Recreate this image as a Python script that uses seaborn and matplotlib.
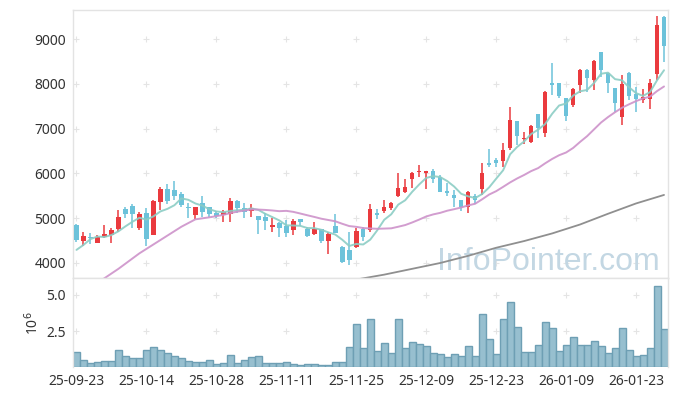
import numpy as np
import pandas as pd
import seaborn as sns
import matplotlib
matplotlib.use('Agg')
import matplotlib.pyplot as plt

# trading days (KRX calendar)
holidays = ['2025-10-03', '2025-10-06', '2025-10-07', '2025-10-08', '2025-10-09',
            '2025-12-25', '2025-12-31', '2026-01-01']
days = pd.bdate_range('2025-09-23', '2026-01-29')
days = days[~days.isin(pd.to_datetime(holidays))]

opens = [4848, 4498, 4587, 4446, 4587, 4625, 4759, 5205, 5272, 4788,
         5123, 4625, 5368, 5652, 5629, 5533, 5257, 5071, 5332, 5243,
         5116, 5078, 5094, 5384, 5221, 5168, 5049, 5034, 4810, 4886,
         4826, 4737, 4982, 4759, 4640, 4752, 4498, 4826, 4364, 4290,
         4350, 4759, 4737, 5123, 5168, 5235, 5502, 5592, 5875, 6031,
         6000, 6053, 5913, 5607, 5518, 5406, 5257, 5502, 5645, 6239,
         6299, 6277, 6560, 7170, 6761, 6707, 7326, 6908, 8018, 8031,
         7675, 7527, 7973, 8308, 8085, 8718, 8234, 7899, 7252, 8241,
         7772, 7650, 7667, 8219, 9498]
highs = [4860, 4685, 4663, 4620, 4848, 4775, 5183, 5257, 5317, 5132,
         5220, 5406, 5703, 5757, 5830, 5577, 5332, 5243, 5495, 5243,
         5170, 5183, 5444, 5406, 5346, 5317, 5049, 5109, 4998, 4922,
         4960, 4975, 4982, 4810, 4908, 4752, 4699, 5094, 4380, 4699,
         4774, 4810, 5317, 5198, 5406, 5368, 6016, 5868, 6038, 6187,
         6060, 6090, 5957, 5779, 5629, 5406, 5607, 5533, 6225, 6538,
         6350, 6672, 7489, 7170, 6931, 7080, 7326, 7839, 8460, 8031,
         7675, 7899, 8323, 8323, 8531, 8718, 8234, 7899, 8196, 8270,
         7922, 7877, 8100, 9513, 9513]
lows = [4480, 4386, 4417, 4440, 4551, 4453, 4699, 5010, 4774, 4737,
        4386, 4625, 5183, 5317, 5406, 5257, 4998, 4982, 5033, 5033,
        5000, 4922, 4922, 5123, 4998, 5020, 4647, 4737, 4699, 4587,
        4587, 4625, 4833, 4573, 4625, 4440, 4201, 4663, 4000, 3955,
        4329, 4484, 4699, 4975, 5109, 5183, 5480, 5560, 5667, 5927,
        5645, 5778, 5592, 5495, 5257, 5168, 5109, 5317, 5518, 6136,
        6136, 6150, 6522, 6634, 6649, 6685, 6783, 6805, 7750, 7683,
        7176, 7489, 7802, 7824, 7861, 8145, 7802, 7377, 7080, 7638,
        7377, 7565, 7430, 8085, 8494]
closes = [4513, 4603, 4551, 4587, 4647, 4737, 5020, 5100, 5100, 5094,
          4529, 5384, 5652, 5384, 5502, 5295, 5221, 5243, 5145, 5094,
          5056, 5132, 5384, 5221, 5145, 5221, 4960, 4944, 4855, 4774,
          4676, 4937, 4908, 4610, 4759, 4498, 4647, 4663, 4029, 4067,
          4721, 4587, 5205, 5071, 5243, 5332, 5667, 5696, 6016, 6060,
          6060, 5868, 5592, 5570, 5443, 5257, 5578, 5406, 6016, 6187,
          6225, 6522, 7192, 6835, 6797, 7058, 7006, 7824, 7973, 7727,
          7281, 7884, 8308, 8123, 8509, 8308, 8011, 7578, 8000, 7727,
          7654, 7698, 8011, 9312, 8851]
# volume, millions of shares
volume = [1.04, 0.55, 0.28, 0.35, 0.48, 0.48, 1.24, 0.76, 0.62, 0.62,
          1.24, 1.38, 1.24, 0.97, 0.76, 0.62, 0.48, 0.41, 0.41, 0.55,
          0.21, 0.28, 0.83, 0.28, 0.55, 0.69, 0.76, 0.28, 0.28, 0.28,
          0.41, 0.21, 0.14, 0.21, 0.21, 0.14, 0.14, 0.41, 0.35, 1.38,
          2.97, 1.31, 3.32, 1.11, 1.66, 0.97, 3.32, 1.31, 1.73, 1.59,
          1.45, 0.97, 0.90, 0.69, 0.90, 0.76, 1.45, 0.76, 3.66, 1.94,
          0.90, 3.32, 4.49, 2.76, 1.04, 1.04, 1.52, 3.11, 2.70, 1.11,
          1.52, 2.07, 1.52, 1.52, 1.80, 1.45, 0.97, 1.31, 2.70, 1.24,
          0.76, 0.83, 1.31, 5.62, 2.63]

prev_closes = [4050, 3900, 4300, 4700]   # closes before the window (MA5 warm-up)
ma20_early_idx = [2, 4, 6, 9, 12, 15, 17]
ma20_early = [3470, 3660, 3870, 4216, 4513, 4810, 4975]
ma120_idx = [40, 44, 48, 52, 56, 60, 64, 68, 72, 76, 80, 84]
ma120 = [3630, 3740, 3870, 4000, 4160, 4340, 4490, 4660, 4860, 5100, 5330, 5520]

RED = '#ea3a3e'
BLUE = '#6cc2da'

sns.set_style('white')
plt.rcParams['font.family'] = ['Noto Sans', 'DejaVu Sans']

n = len(closes)
x = np.arange(n)
o = np.array(opens, float)
c = np.array(closes, float)
cols = np.where(c >= o, RED, BLUE)

ma5 = pd.Series(prev_closes + closes).rolling(5).mean().values[4:]
ma20_late = pd.Series(closes).rolling(20).mean()
ma20 = pd.concat([pd.Series(ma20_early, index=ma20_early_idx), ma20_late.dropna()])

fig = plt.figure(figsize=(6.77, 3.96), dpi=100)
ax = fig.add_axes([0.1078, 0.298, 0.8782, 0.6767])
axv = fig.add_axes([0.1078, 0.072, 0.8782, 0.226], sharex=ax)

# candles
ax.vlines(x, lows, highs, colors=cols, lw=1.1, zorder=2)
ax.bar(x, np.maximum(np.abs(c - o), 18), bottom=np.minimum(o, c), width=0.64,
       color=cols, edgecolor=cols, linewidth=0, zorder=3)

# moving averages
sns.lineplot(x=x, y=ma5, ax=ax, color='#8ccdc5', lw=1.4, alpha=0.9, zorder=4)
sns.lineplot(x=ma20.index, y=ma20.values, ax=ax, color='#cd92ca', lw=1.4, alpha=0.9, zorder=4)
sns.lineplot(x=ma120_idx, y=ma120, ax=ax, color='#8f8f8f', lw=1.3, zorder=4)

ax.text(0.987, 0.03, 'InfoPointer.com', transform=ax.transAxes, ha='right',
        va='baseline', fontsize=23, family='Liberation Sans', color='#c3d7e3', zorder=1)

# volume
sns.barplot(x=x, y=volume, ax=axv, native_scale=True, width=1.0, color='#97bfcf',
            edgecolor='#6e9fb4', linewidth=1.0, saturation=1)

ax.set_xlim(-0.5, n - 0.5)
ax.set_ylim(3665, 9650)
axv.set_ylim(0, 6.17)

xt = list(range(0, n, 10))
yt = list(range(4000, 9001, 1000))
ax.set_yticks(yt)
ax.set_yticklabels([str(v) for v in yt])
axv.set_yticks([2.5, 5.0])
axv.set_yticklabels(['2.5', '5.0'])
axv.set_xticks(xt)
axv.set_xticklabels([days[i].strftime('%y-%m-%d') for i in xt])
ax.tick_params(axis='x', labelbottom=False, length=0)
axv.set_ylabel('10$^6$', fontsize=10, color='#333333', labelpad=3)

# grid crosses
gx, gy = np.meshgrid(xt, yt)
ax.scatter(gx.ravel(), gy.ravel(), marker='+', s=14, color='#e4e4e4', lw=0.8, zorder=0)
gx, gy = np.meshgrid(xt, [2.5, 5.0])
axv.scatter(gx.ravel(), gy.ravel(), marker='+', s=14, color='#e4e4e4', lw=0.8, zorder=0)

for a in (ax, axv):
    a.tick_params(length=0, labelsize=10, colors='#333333', pad=5)
    a.set_xlabel('')
    for s in a.spines.values():
        s.set_color('#e3e3e3')
        s.set_linewidth(1.0)
axv.spines['bottom'].set_visible(False)

plt.savefig('out.png', dpi=100)
